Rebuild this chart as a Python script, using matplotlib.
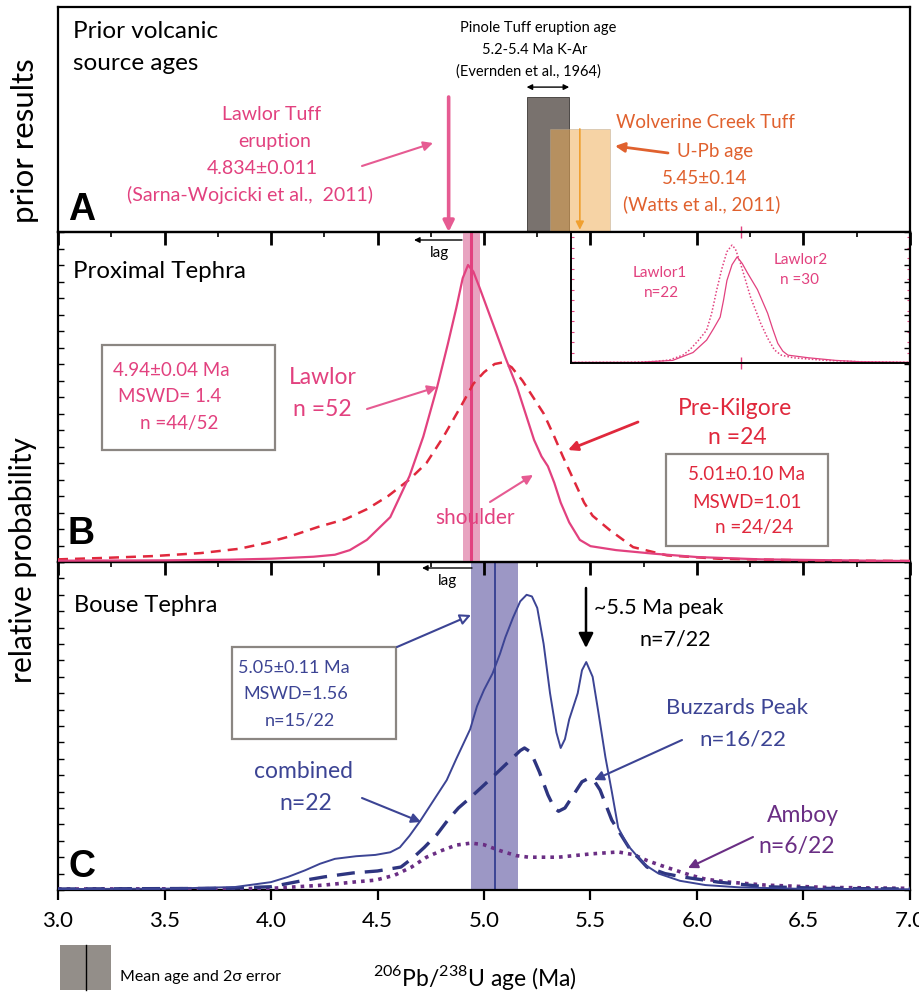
import matplotlib
matplotlib.use('Agg')
import matplotlib.pyplot as plt
from matplotlib.patches import Rectangle
from matplotlib.lines import Line2D
from matplotlib.ticker import MultipleLocator

plt.rcParams['font.family'] = ['Lato', 'DejaVu Sans']
plt.rcParams['mathtext.fontset'] = 'custom'
plt.rcParams['mathtext.rm'] = 'Lato'

# ---------------- data ----------------
lawlor_tuff_age = 4.834
pinole_range = (5.2, 5.4)
wolverine_age = 5.45
wolverine_err = 0.14
pinole_height = 0.60
wolverine_height = 0.458

lawlor_age = [3.0, 3.5, 3.8, 4.0, 4.2, 4.3, 4.37, 4.45, 4.56, 4.65, 4.715, 4.78, 4.83,
              4.87, 4.90, 4.925, 4.95, 4.98, 5.02, 5.06, 5.10, 5.155, 5.20, 5.235,
              5.27, 5.30, 5.33, 5.36, 5.40, 5.45, 5.50, 5.62, 5.80, 6.0, 6.3, 6.8, 7.0]
lawlor_prob = [0.004, 0.005, 0.007, 0.010, 0.016, 0.022, 0.036, 0.067, 0.136, 0.26, 0.38,
               0.53, 0.66, 0.77, 0.86, 0.90, 0.88, 0.83, 0.76, 0.69, 0.62, 0.53, 0.44,
               0.37, 0.32, 0.29, 0.24, 0.18, 0.12, 0.067, 0.048, 0.036, 0.025, 0.015,
               0.008, 0.004, 0.003]
prekilgore_age = [3.0, 3.2, 3.45, 3.67, 3.85, 3.98, 4.1, 4.22, 4.35, 4.45, 4.55, 4.65,
                  4.73, 4.81, 4.89, 4.95, 5.00, 5.05, 5.09, 5.13, 5.18, 5.23, 5.28,
                  5.33, 5.37, 5.42, 5.47, 5.51, 5.59, 5.70, 5.86, 6.1, 6.5, 7.0]
prekilgore_prob = [0.008, 0.012, 0.018, 0.027, 0.040, 0.058, 0.080, 0.106, 0.13, 0.16,
                   0.20, 0.25, 0.30, 0.38, 0.47, 0.54, 0.575, 0.60, 0.605, 0.59, 0.55,
                   0.50, 0.45, 0.38, 0.32, 0.25, 0.18, 0.14, 0.097, 0.045, 0.02, 0.01,
                   0.005, 0.003]
lawlor_mean, lawlor_err = 4.94, 0.04

lawlor1_x = [0.0, 0.17, 0.25, 0.29, 0.33, 0.35, 0.375, 0.40, 0.415, 0.43, 0.445, 0.46,
             0.475, 0.485, 0.50, 0.515, 0.53, 0.545, 0.56, 0.58, 0.60, 0.62, 0.655,
             0.75, 0.85, 1.0]
lawlor1_y = [0.005, 0.005, 0.012, 0.023, 0.06, 0.10, 0.17, 0.25, 0.38, 0.56, 0.72, 0.85,
             0.90, 0.87, 0.76, 0.63, 0.50, 0.40, 0.30, 0.19, 0.10, 0.06, 0.04, 0.02,
             0.01, 0.005]
lawlor2_x = [0.0, 0.2, 0.30, 0.36, 0.40, 0.42, 0.44, 0.45, 0.46, 0.475, 0.49, 0.505,
             0.52, 0.55, 0.565, 0.58, 0.595, 0.61, 0.625, 0.64, 0.70, 0.78, 0.85, 1.0]
lawlor2_y = [0.005, 0.005, 0.02, 0.08, 0.175, 0.26, 0.35, 0.48, 0.63, 0.75, 0.81, 0.76,
             0.69, 0.56, 0.47, 0.38, 0.26, 0.15, 0.09, 0.06, 0.04, 0.02, 0.01, 0.005]

combined_age = [3.0, 3.5, 3.83, 4.0, 4.08, 4.16, 4.23, 4.30, 4.40, 4.49, 4.56, 4.605,
                4.65, 4.70, 4.76, 4.825, 4.87, 4.935, 4.967, 5.00, 5.04, 5.075, 5.10,
                5.136, 5.17, 5.20, 5.225, 5.25, 5.28, 5.31, 5.34, 5.36, 5.38, 5.40,
                5.44, 5.46, 5.48, 5.51, 5.535, 5.57, 5.60, 5.63, 5.67, 5.71, 5.76,
                5.82, 5.92, 6.04, 6.2, 6.46, 7.0]
combined_prob = [0.003, 0.004, 0.009, 0.024, 0.04, 0.06, 0.08, 0.095, 0.103, 0.107,
                 0.115, 0.13, 0.165, 0.21, 0.27, 0.335, 0.40, 0.49, 0.56, 0.61, 0.66,
                 0.72, 0.77, 0.83, 0.88, 0.90, 0.895, 0.86, 0.75, 0.60, 0.48, 0.433,
                 0.46, 0.52, 0.60, 0.67, 0.695, 0.65, 0.55, 0.405, 0.30, 0.19, 0.14,
                 0.11, 0.075, 0.05, 0.028, 0.015, 0.008, 0.004, 0.002]
buzzards_age = [3.0, 3.8, 4.0, 4.08, 4.16, 4.25, 4.385, 4.50, 4.61, 4.67, 4.72, 4.78,
                4.83, 4.88, 4.94, 5.00, 5.075, 5.13, 5.17, 5.19, 5.22, 5.26, 5.30,
                5.33, 5.35, 5.38, 5.42, 5.46, 5.49, 5.52, 5.545, 5.60, 5.68, 5.765,
                5.85, 5.93, 6.10, 6.32, 6.6, 7.0]
buzzards_prob = [0.003, 0.005, 0.01, 0.02, 0.03, 0.04, 0.052, 0.058, 0.07, 0.10, 0.13,
                 0.17, 0.213, 0.25, 0.284, 0.32, 0.366, 0.40, 0.425, 0.433, 0.42, 0.36,
                 0.29, 0.25, 0.24, 0.25, 0.29, 0.33, 0.34, 0.33, 0.305, 0.213, 0.13,
                 0.07, 0.05, 0.04, 0.024, 0.01, 0.005, 0.003]
amboy_age = [3.0, 3.8, 4.0, 4.25, 4.40, 4.49, 4.58, 4.66, 4.73, 4.80, 4.87, 4.94, 5.00,
             5.075, 5.15, 5.21, 5.35, 5.50, 5.63, 5.70, 5.765, 5.83, 5.90, 5.97, 6.04,
             6.15, 6.32, 6.6, 7.0]
amboy_prob = [0.003, 0.004, 0.005, 0.015, 0.025, 0.03, 0.045, 0.07, 0.10, 0.12, 0.137,
              0.143, 0.138, 0.12, 0.105, 0.10, 0.10, 0.11, 0.116, 0.108, 0.09, 0.075,
              0.06, 0.045, 0.033, 0.024, 0.015, 0.008, 0.005]
bouse_mean, bouse_err = 5.05, 0.11

xticks = [3.0, 3.5, 4.0, 4.5, 5.0, 5.5, 6.0, 6.5, 7.0]
xticklabels = ['3.0', '3.5', '4.0', '4.5', '5.0', '5.5', '6.0', '6.5', '7.0']
minor_xticks = [3.25, 3.75, 4.25, 4.75, 5.25, 5.75, 6.25, 6.75]

# ---------------- colours ----------------
PINK = '#e2417f'
PINK_BAND = '#e8a3c0'
PINK_ARROW = '#e65b92'
RED = '#e0283c'
NAVY = '#3c4494'
BLUE_BAND = '#9c97c5'
PURPLE = '#6a2e84'
ORANGE_TXT = '#e0612e'
ORANGE_FILL = '#eeac55'
ORANGE_ARROW = '#f0a030'
DARK_GRAY = '#79726e'
BOX_GRAY = '#8b8682'

W, H = 920, 992
fig = plt.figure(figsize=(9.2, 9.92), dpi=100)


def box(l, t, r, b):
    return [l / W, 1 - b / H, (r - l) / W, (b - t) / H]


def P(px, py):
    return (px / W, 1 - py / H)


def txt(px, py, s, size, color='black', ha='center', **kw):
    fig.text(px / W, 1 - py / H, s, fontsize=size, color=color, ha=ha, va='center', **kw)


def arrow(p_from, p_to, color, lw=1.4, ms=14, fc=None):
    fig.add_artist(matplotlib.patches.FancyArrowPatch(
        P(*p_from), P(*p_to), transform=fig.transFigure, arrowstyle='-|>',
        mutation_scale=ms, lw=lw, color=color,
        fc=fc if fc is not None else color, ec=color, shrinkA=0, shrinkB=0))


def rect(l, t, r, b, ec=BOX_GRAY):
    fig.add_artist(Rectangle(P(l, b), (r - l) / W, (b - t) / H, transform=fig.transFigure,
                             fill=True, fc='white', ec=ec, lw=1.6))


axA = fig.add_axes(box(58, 7, 910, 232))
axB = fig.add_axes(box(58, 232, 910, 562))
axC = fig.add_axes(box(58, 562, 910, 890))
axI = fig.add_axes(box(571, 232, 910, 363))
# inset sits under panel B's (transparent) layer so B's top ticks show over it
axI.set_zorder(1)
axB.set_zorder(2)
axB.patch.set_alpha(0)

for ax in (axA, axB, axC):
    ax.set_xlim(3, 7)
    ax.set_ylim(0, 1)
    for s in ax.spines.values():
        s.set_linewidth(1.6)

# ---- Panel A ----
axA.set_xticks([])
axA.set_yticks([])
axA.add_patch(Rectangle((pinole_range[0], 0), pinole_range[1] - pinole_range[0], pinole_height,
                        fc=DARK_GRAY, ec='#3a3634', lw=0.6, zorder=2))
axA.add_patch(Rectangle((wolverine_age - wolverine_err, 0), 2 * wolverine_err, wolverine_height,
                        fc=ORANGE_FILL, alpha=0.53, ec='#b8a890', lw=0.6, zorder=3))
axA.annotate('', xy=(lawlor_tuff_age, 0.0), xytext=(lawlor_tuff_age, pinole_height),
             arrowprops=dict(arrowstyle='-|>', color=PINK_ARROW, lw=2.6, mutation_scale=16,
                             shrinkA=0, shrinkB=0), zorder=4)
axA.annotate('', xy=(wolverine_age, 0.01), xytext=(wolverine_age, wolverine_height),
             arrowprops=dict(arrowstyle='-|>', color=ORANGE_ARROW, lw=1.2, mutation_scale=12,
                             shrinkA=0, shrinkB=0), zorder=4)
axA.annotate('', xy=(pinole_range[0], 0.644), xytext=(pinole_range[1], 0.644),
             arrowprops=dict(arrowstyle='<|-|>', color='black', lw=1.0, mutation_scale=8,
                             shrinkA=0, shrinkB=0))

# ---- Panel B ----
axB.axvspan(lawlor_mean - lawlor_err, lawlor_mean + lawlor_err, color=PINK_BAND, lw=0, zorder=1)
axB.axvline(lawlor_mean, color=PINK, lw=2.2, zorder=2)
axB.plot(prekilgore_age, prekilgore_prob, color=RED, lw=1.8, ls=(0, (4, 2.8)), zorder=3)
axB.plot(lawlor_age, lawlor_prob, color=PINK, lw=1.6, zorder=4)

# ---- inset ----
axI.set_xlim(0, 1)
axI.set_ylim(0, 1)
axI.plot(lawlor1_x, lawlor1_y, color=PINK, lw=1.1, ls=(0, (1, 1.3)))
axI.plot(lawlor2_x, lawlor2_y, color=PINK, lw=0.9)
axI.set_xticks([0.5])
axI.tick_params(axis='x', direction='inout', length=8, color=PINK, top=True, bottom=True,
                labelbottom=False, width=1)
axI.yaxis.set_major_locator(MultipleLocator(0.08))
axI.tick_params(axis='y', direction='in', length=2, color=PINK, left=True, right=True,
                labelleft=False)
for s in axI.spines.values():
    s.set_linewidth(1.4)

# ---- Panel C ----
axC.axvspan(bouse_mean - bouse_err, bouse_mean + bouse_err, color=BLUE_BAND, lw=0, zorder=1)
axC.axvline(bouse_mean, color=NAVY, lw=1.4, zorder=2)
axC.plot(amboy_age, amboy_prob, color=PURPLE, lw=2.6, ls=(0, (1, 1.4)), zorder=3)
axC.plot(buzzards_age, buzzards_prob, color='#2e3580', lw=2.4, ls=(0, (5.4, 3)), zorder=4)
axC.plot(combined_age, combined_prob, color=NAVY, lw=1.4, zorder=5)

for ax in (axB, axC):
    ax.yaxis.set_major_locator(MultipleLocator(0.05))
    ax.tick_params(axis='y', direction='in', length=4, width=1.0, left=True, right=True,
                   labelleft=False)

# inward tick marks along the top edge of panels B and C
for ax, hgt in ((axB, 330), (axC, 328)):
    tr = ax.get_xaxis_transform()
    ax.vlines(xticks, 1 - 13 / hgt, 1, transform=tr, color='black', lw=2.0, zorder=6,
              clip_on=False)
    ax.vlines(minor_xticks, 1 - 5 / hgt, 1, transform=tr, color='black', lw=1.2, zorder=6,
              clip_on=False)

axB.set_xticks([])
axC.set_xticks(xticks)
axC.set_xticklabels(xticklabels)
axC.tick_params(axis='x', which='both', direction='out', top=False, bottom=True,
                length=7, width=1.6, labelsize=16, pad=8)

# ---------------- text ----------------
txt(25, 141, 'prior results', 22.5, rotation=90)
txt(23, 560, 'relative probability', 21.5, rotation=90)

txt(73, 32, 'Prior volcanic', 17.5, ha='left')
txt(73, 63, 'source ages', 17.5, ha='left')
txt(68, 210, 'A', 27, ha='left', weight='bold', family='Liberation Sans')
txt(538, 28, 'Pinole Tuff eruption age', 10.5)
txt(535, 50, '5.2-5.4 Ma K-Ar', 10.5)
txt(528, 72, '(Evernden et al., 1964)', 10.5)
txt(272, 115, 'Lawlor Tuff', 14, PINK)
txt(275, 142, 'eruption', 14, PINK)
txt(262, 168, '4.834\u00b10.011', 14, PINK)
txt(250, 195, '(Sarna-Wojcicki et al.,  2011)', 14, PINK)
arrow((362, 166), (433, 143), PINK_ARROW, lw=1.5)
txt(705, 123, 'Wolverine Creek Tuff', 13.5, ORANGE_TXT)
txt(715, 151, 'U-Pb age', 13.5, ORANGE_TXT)
txt(705, 178, '5.45\u00b10.14', 13.5, ORANGE_TXT)
txt(702, 204, '(Watts et al., 2011)', 13.5, ORANGE_TXT)
arrow((668, 153), (615, 146), ORANGE_TXT, lw=2.0)

txt(73, 272, 'Proximal Tephra', 17.3, ha='left')
txt(68, 534, 'B', 27, ha='left', weight='bold', family='Liberation Sans')
arrow((462, 240), (414, 240), 'black', lw=1.0, ms=8)
txt(440, 253, 'lag', 11)
txt(323, 377, 'Lawlor', 16.5, PINK)
txt(322, 410, 'n =52', 16.5, PINK)
arrow((367, 409), (437, 387), PINK_ARROW, lw=1.5)
rect(102, 345, 275, 450)
txt(113, 370, '4.94\u00b10.04 Ma', 13.5, PINK, ha='left')
txt(118, 397, 'MSWD= 1.4', 13.5, PINK, ha='left')
txt(140, 423, 'n =44/52', 13.5, PINK, ha='left')
txt(475, 518, 'shoulder', 15, PINK)
arrow((490, 502), (533, 475), PINK_ARROW, lw=1.5)
txt(735, 408, 'Pre-Kilgore', 16.5, RED)
txt(737, 438, 'n =24', 16.5, RED)
arrow((638, 422), (568, 450), RED, lw=2.0)
rect(666, 454, 828, 546)
txt(747, 475, '5.01\u00b10.10 Ma', 13.5, RED)
txt(747, 502, 'MSWD=1.01', 13.5, RED)
txt(754, 528, 'n =24/24', 13.5, RED)
txt(660, 273, 'Lawlor1', 11, PINK)
txt(661, 293, 'n=22', 11, PINK)
txt(801, 260, 'Lawlor2', 11, PINK)
txt(800, 280, 'n =30', 11, PINK)
arrow((698, 287), (718, 292), PINK_ARROW, lw=1.0, ms=8)
arrow((772, 278), (753, 288), PINK_ARROW, lw=1.0, ms=8)

txt(74, 605, 'Bouse Tephra', 17, ha='left')
txt(68, 867, 'C', 27, ha='left', weight='bold', family='Liberation Sans')
arrow((472, 568), (422, 568), 'black', lw=1.0, ms=8)
txt(448, 581, 'lag', 11)
rect(232, 647, 396, 739)
txt(238, 668, '5.05\u00b10.11 Ma', 13, NAVY, ha='left')
txt(243, 694, 'MSWD=1.56', 13, NAVY, ha='left')
txt(265, 721, 'n=15/22', 13, NAVY, ha='left')
arrow((397, 647), (471, 615), NAVY, lw=1.5, ms=16, fc='white')
txt(594, 608, '~5.5 Ma peak', 15.5, ha='left')
txt(675, 640, 'n=7/22', 15.5)
arrow((586, 588), (586, 648), 'black', lw=1.8, ms=22)
txt(737, 708, 'Buzzards Peak', 16, NAVY)
txt(743, 740, 'n=16/22', 16, NAVY)
arrow((682, 740), (594, 780), NAVY, lw=1.5)
txt(304, 772, 'combined', 16.5, NAVY)
txt(306, 803, 'n=22', 16.5, NAVY)
arrow((362, 798), (421, 822), NAVY, lw=1.5)
txt(803, 815, 'Amboy', 16.5, PURPLE)
txt(797, 847, 'n=6/22', 16.5, PURPLE)
arrow((753, 837), (688, 868), PURPLE, lw=1.5)

txt(475, 977, r'$^{206}$Pb/$^{238}$U age (Ma)', 16.5)
fig.add_artist(Rectangle(P(60, 990), 51 / W, 45 / H, transform=fig.transFigure,
                         fc='#938e89', ec='none'))
fig.add_artist(Line2D([86 / W, 86 / W], [1 - 990 / H, 1 - 945 / H], transform=fig.transFigure,
                      color='black', lw=1.0))
txt(120, 977, 'Mean age and 2\u03c3 error', 11.5, ha='left')

fig.savefig('out.png', dpi=100)
